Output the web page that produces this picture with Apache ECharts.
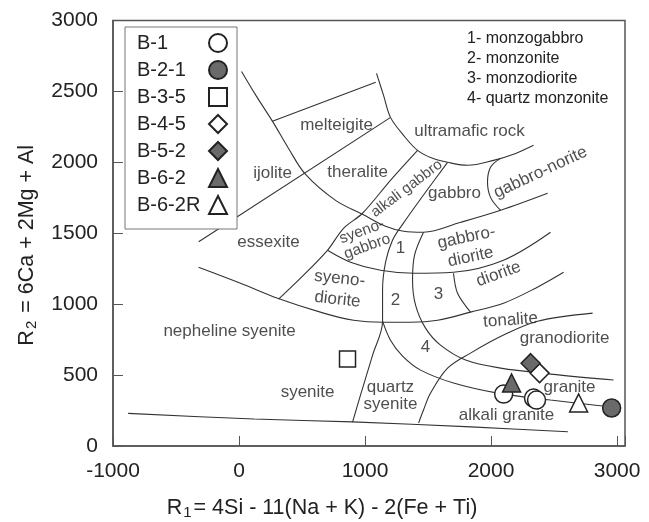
<!DOCTYPE html>
<html><head><meta charset="utf-8">
<script src="https://cdn.jsdelivr.net/npm/echarts/dist/echarts.min.js"></script>
<style>html,body{margin:0;padding:0;background:#fff}#c{width:649px;height:522px}</style>
</head><body><div id="c"></div>
<script>
const FONT = '"Liberation Sans", Arial, sans-serif';

// axis ticks
const xTickLabels = [-1000, 0, 1000, 2000, 3000];
const yTickLabels = [0, 500, 1000, 1500, 2000, 2500, 3000];

// samples (R1, R2)
const sampleNames = ['B-1', 'B-2-1', 'B-3-5', 'B-4-5', 'B-5-2', 'B-6-2', 'B-6-2R'];
const B1   = [[2100, 366], [2337, 338], [2361, 324]];
const B21  = [[2957, 268]];
const B35  = [[861, 613]];
const B45  = [[2385, 514]];
const B52  = [[2314, 584]];
const B62  = [[2163, 444]];
const B62R = [[2695, 303]];

// field boundaries (R1, R2)
const lineBottom = [[-880, 230], [120, 190], [900, 170], [1840, 135], [2610, 100]];
const lineL1 = [[-320, 1440], [1200, 2315]];
const lineMelTop = [[265, 2290], [1085, 2565]];
const arcA = [[20, 2641], [139, 2465], [266, 2289], [393, 2098], [528, 1915], [766, 1732], [980, 1634], [1163, 1549], [1306, 1514], [1464, 1507], [1758, 1577], [2076, 1662], [2449, 1782]];
const arcU = [[1091, 2627], [1147, 2472], [1202, 2317], [1306, 2190], [1417, 2084], [1536, 2028], [1655, 2000], [1814, 1979], [2020, 2014], [2195, 2063], [2337, 2120]];
const lineNorite = [[2076, 2028], [1996, 1965], [1972, 1859], [1996, 1753], [2076, 1662]];
const lineR1 = [[1417, 2084], [1202, 1873], [980, 1641], [829, 1535], [702, 1380], [488, 1183], [314, 1035]];
const lineR2 = [[1655, 2000], [1480, 1789], [1298, 1563], [1218, 1451], [1163, 1296], [1139, 1099], [1139, 880], [1060, 641], [964, 359], [901, 169]];
const lineC3 = [[702, 1380], [885, 1296], [1123, 1239], [1385, 1218], [1702, 1225], [2099, 1310], [2472, 1507]];
const lineR3 = [[1464, 1507], [1393, 1345], [1377, 1169], [1401, 993], [1480, 831], [1599, 711], [1798, 606], [2076, 549], [2472, 507], [2972, 465]];
const lineR4 = [[1702, 1218], [1734, 1077], [1837, 944]];
const lineC4 = [[-321, 1261], [12, 1148], [306, 1042], [671, 937], [909, 887], [1139, 873], [1361, 873], [1576, 887], [1837, 944], [2099, 1007], [2353, 1113], [2576, 1225]];
const lineC5 = [[1425, 162], [1464, 254], [1520, 373], [1655, 549], [1837, 655], [2099, 782], [2369, 880], [2806, 937]];
const lineC6 = [[1139, 880], [1202, 746], [1298, 634], [1441, 535], [1702, 444], [2052, 373], [2472, 324], [3028, 268]];

// field names: [R1, R2, text, rotation, line spacing, font size]
const fieldLabels = [
  [774, 2260, 'melteigite', 0, 17, 17],
  [1829, 2218, 'ultramafic rock', 0, 17, 17],
  [941, 1930, 'theralite', 0, 17, 17],
  [266, 1922, 'ijolite', 0, 17, 17],
  [1330, 1815, 'alkali gabbro', 37, 17, 15],
  [1710, 1782, 'gabbro', 0, 17, 17],
  [2393, 1930, 'gabbro-norite', 25, 17, 17],
  [234, 1437, 'essexite', 0, 17, 17],
  [996, 1460, 'syeno-\ngabbro', 20, 16, 15.5],
  [1282, 1394, '1', 0, 17, 17],
  [1822, 1401, 'gabbro-\ndiorite', 12, 20, 17],
  [790, 1106, 'syeno-\ndiorite', -6, 21, 17],
  [1242, 1028, '2', 0, 17, 17],
  [1583, 1070, '3', 0, 17, 17],
  [2060, 1211, 'diorite', 20, 17, 17],
  [-75, 810, 'nepheline syenite', 0, 17, 17],
  [544, 380, 'syenite', 0, 17, 17],
  [1202, 352, 'quartz\nsyenite', 0, 17, 17],
  [1480, 697, '4', 0, 17, 17],
  [2155, 887, 'tonalite', 4, 17, 17],
  [2584, 761, 'granodiorite', 0, 17, 17],
  [2623, 415, 'granite', 0, 17, 17],
  [2123, 218, 'alkali granite', 0, 17, 17]
];

const notes = ['1- monzogabbro', '2- monzonite', '3- monzodiorite', '4- quartz monzonite'];

const DARK = '#6a6a6a', EDGE = '#222';
const sampleStyle = [
  { data: B1,   symbol: 'circle',   size: 18, fill: '#fff' },
  { data: B21,  symbol: 'circle',   size: 18, fill: DARK },
  { data: B35,  symbol: 'rect',     size: 16, fill: '#fff' },
  { data: B45,  symbol: 'diamond',  size: 19, fill: '#fff' },
  { data: B52,  symbol: 'diamond',  size: 19, fill: DARK },
  { data: B62,  symbol: 'triangle', size: 18, fill: DARK },
  { data: B62R, symbol: 'triangle', size: 18, fill: '#fff' }
];

const boundaries = [
  [lineBottom, 0.3], [lineL1, false], [lineMelTop, false], [arcA, 0.35], [arcU, 0.35],
  [lineNorite, 0.4], [lineR1, 0.3], [lineR2, 0.35], [lineC3, 0.35], [lineR3, 0.35],
  [lineR4, 0.3], [lineC4, 0.35], [lineC5, 0.35], [lineC6, 0.35]
];

const series = [];
boundaries.forEach(([d, s]) => series.push({
  type: 'line', data: d, smooth: s, symbol: 'none', silent: true, z: 2,
  lineStyle: { color: '#333', width: 1.1 }
}));
series.push({
  type: 'scatter', silent: true, z: 3, symbolSize: 1, itemStyle: { color: 'rgba(0,0,0,0)' },
  data: fieldLabels.map(f => ({ value: [f[0], f[1]], name: f[2],
    label: { rotate: f[3], lineHeight: f[4], fontSize: f[5] } })),
  label: { show: true, position: 'inside', formatter: p => p.name, color: '#222',
    fontSize: 17, fontFamily: FONT, lineHeight: 17, align: 'center', verticalAlign: 'middle' }
});
sampleNames.forEach((n, i) => {
  const st = sampleStyle[i];
  series.push({
    type: 'scatter', name: n, data: st.data, symbol: st.symbol, symbolSize: st.size, z: 5,
    itemStyle: { color: st.fill, borderColor: EDGE, borderWidth: 1.5, opacity: 1 }
  });
});

const chart = echarts.init(document.getElementById('c'), null, { renderer: 'canvas' });
chart.setOption({
  animation: false,
  backgroundColor: '#fff',
  grid: { left: 113, top: 20.5, right: 24, bottom: 76, show: true, borderColor: '#555', borderWidth: 1.5, outerBoundsMode: 'none' },
  xAxis: {
    type: 'value', min: -1000, max: 3063, interval: 1000,
    axisLine: { show: true, onZero: false, lineStyle: { color: '#555', width: 1.5 } },
    axisTick: { show: true, inside: true, length: 10, lineStyle: { color: '#555', width: 1 } },
    splitLine: { show: false },
    axisLabel: { fontSize: 21, color: '#222', fontFamily: FONT, margin: 15,
      formatter: v => xTickLabels.includes(v) ? String(v) : '' },
    name: '{a|R}{s|1}{a|= 4Si - 11(Na + K) - 2(Fe + Ti)}',
    nameLocation: 'middle', nameGap: 51,
    nameTextStyle: { padding: [0, 94, 0, 0], rich: {
      a: { fontSize: 21.5, color: '#222', fontFamily: FONT },
      s: { fontSize: 15, color: '#222', fontFamily: FONT, verticalAlign: 'bottom', padding: [8, 2, 0, 1] } } }
  },
  yAxis: {
    type: 'value', min: 0, max: 3000, interval: 500,
    axisLine: { show: true, onZero: false, lineStyle: { color: '#555', width: 1.5 } },
    axisTick: { show: true, inside: true, length: 10, lineStyle: { color: '#555', width: 1 } },
    splitLine: { show: false },
    axisLabel: { fontSize: 21, color: '#222', fontFamily: FONT, margin: 15,
      formatter: v => yTickLabels.includes(v) ? String(v) : '' },
    name: '{a|R}{s|2}{a| = 6Ca + 2Mg + Al}',
    nameLocation: 'middle', nameGap: 74,
    nameTextStyle: { padding: [0, 24, 0, 0], rich: {
      a: { fontSize: 21.5, color: '#222', fontFamily: FONT },
      s: { fontSize: 15, color: '#222', fontFamily: FONT, verticalAlign: 'bottom', padding: [8, 2, 0, 1] } } }
  },
  legend: {
    data: sampleNames, orient: 'vertical', left: 125, top: 27, align: 'right',
    itemWidth: 18, itemHeight: 18, itemGap: 7, itemTextGap: 5, selectedMode: false,
    padding: [6, 9, 14, 12], borderColor: '#777', borderWidth: 1, backgroundColor: '#fff',
    formatter: name => '{n|' + name + '}',
    textStyle: { fontSize: 20, color: '#222', fontFamily: FONT,
      rich: { n: { width: 67, align: 'left', fontSize: 20, color: '#222', fontFamily: FONT } } }
  },
  graphic: [{
    type: 'text', left: 467, top: 29, z: 10,
    style: { text: notes.join('\n'), fontSize: 16, lineHeight: 20, fill: '#222', font: '16px ' + FONT }
  }],
  series: series
});
</script></body></html>
